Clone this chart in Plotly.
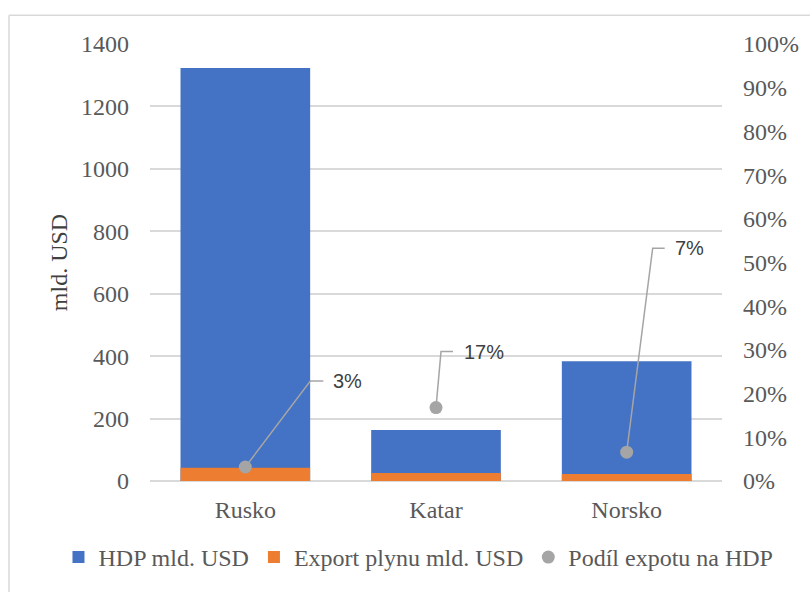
import plotly.graph_objects as go

categories = ["Rusko", "Katar", "Norsko"]
hdp = [1323, 163, 384]
export = [42.5, 25.6, 22.4]
podil = [0.032, 0.168, 0.066]
left_ticks = [0, 200, 400, 600, 800, 1000, 1200, 1400]
right_ticks = [i / 10 for i in range(11)]

# leader line offsets (pixels): elbow dx, dy, end dx, label shift
leaders = [(65, 86, 78, 86), (5, 56, 17, 26), (26, 204, 38, 46)]

SERIF = "Liberation Serif"
SANS = "Liberation Sans"

fig = go.Figure()
fig.add_trace(go.Bar(x=categories, y=hdp, name="HDP mld. USD", marker_color="#4472C4",
                     width=0.68, marker_line_width=0))
fig.add_trace(go.Bar(x=categories, y=export, name="Export plynu mld. USD", marker_color="#ED7D31",
                     width=0.68, marker_line_width=0))
fig.add_trace(go.Scatter(x=categories, y=podil, name="Podíl expotu na HDP", mode="markers",
                         marker=dict(color="#A5A5A5", size=13), yaxis="y2"))

for i, (cat, v) in enumerate(zip(categories, podil)):
    ex, ey, endx, lx = leaders[i]
    fig.add_shape(type="path", xref="x", yref="y2", xsizemode="pixel", ysizemode="pixel",
                  xanchor=i, yanchor=v,
                  path=f"M0,0 L{ex},{ey} L{endx},{ey}",
                  line=dict(color="#A5A5A5", width=1.5), layer="above")
    fig.add_annotation(x=cat, y=v, yref="y2", text=f"{round(v*100)}%", showarrow=False,
                       xanchor="left", yanchor="middle", xshift=lx, yshift=ey,
                       font=dict(family=SANS, size=20, color="#404040"))

# outer chart border (partially visible)
fig.add_shape(type="line", xref="paper", yref="paper", x0=-0.2465, x1=1.3, y0=1.066, y1=1.066,
              line=dict(color="#D9D9D9", width=1.5))
fig.add_shape(type="line", xref="paper", yref="paper", x0=-0.2465, x1=-0.2465, y0=-0.5, y1=1.066,
              line=dict(color="#D9D9D9", width=1.5))

fig.update_layout(
    width=810, height=592,
    margin=dict(l=150, r=88, t=44, b=109),
    paper_bgcolor="white", plot_bgcolor="white",
    barmode="overlay",
    showlegend=True,
    legend=dict(orientation="h", x=-0.16, xanchor="left", y=-0.175, yanchor="middle",
                font=dict(family=SERIF, size=24, color="#595959"), itemwidth=30,
                traceorder="normal"),
    xaxis=dict(showline=False, showgrid=False, ticks="", ticklabelstandoff=12,
               tickfont=dict(family=SERIF, size=24, color="#595959")),
    yaxis=dict(range=[0, 1400], tickvals=left_ticks, showgrid=True, gridcolor="#D9D9D9",
               gridwidth=1.5, zeroline=True, zerolinecolor="#D9D9D9", zerolinewidth=1.5,
               ticks="", ticklabelstandoff=20,
               tickfont=dict(family=SERIF, size=24, color="#595959"),
               title=dict(text="mld. USD", standoff=6,
                          font=dict(family=SERIF, size=24, color="#404040"))),
    yaxis2=dict(range=[0, 1], tickvals=right_ticks, tickformat=".0%", overlaying="y", side="right",
                showgrid=False, zeroline=False, ticks="", ticklabelstandoff=20,
                tickfont=dict(family=SERIF, size=24, color="#595959")),
)

fig.write_html("out.html", config={"displayModeBar": False},
               post_script="document.body.style.margin='0';")
